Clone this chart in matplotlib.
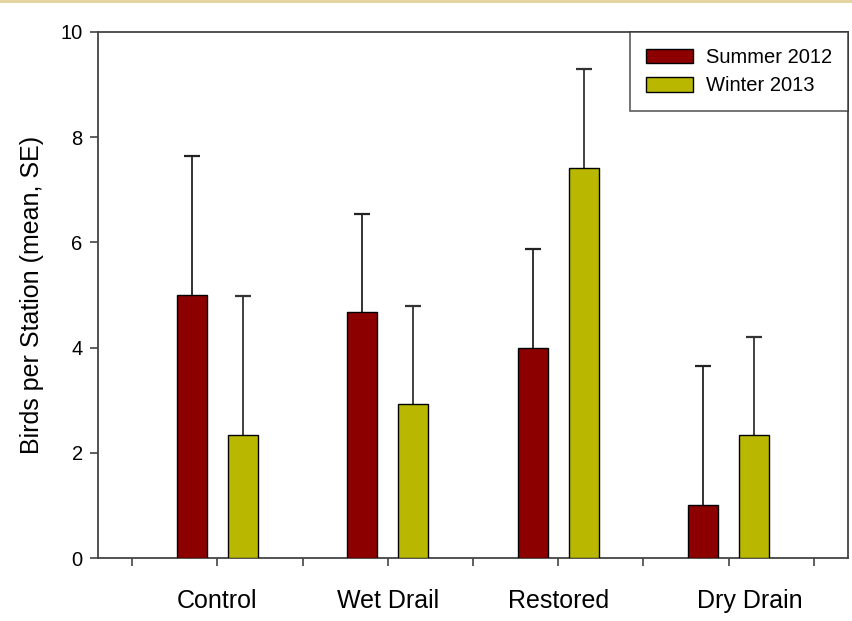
import numpy as np
import matplotlib
matplotlib.use("Agg")
import matplotlib.pyplot as plt
from matplotlib.lines import Line2D

plt.rcParams['font.family'] = ['Liberation Sans', 'DejaVu Sans']

# data
sites = ['Control', 'Wet Drail', 'Restored', 'Dry Drain']
summer_2012 = [5.0, 4.67, 4.0, 1.0]
summer_se = [2.65, 1.87, 1.87, 2.65]
winter_2013 = [2.33, 2.92, 7.42, 2.33]
winter_se = [2.65, 1.87, 1.87, 1.87]

red = '#8c0000'
olive = '#b9b700'

fig = plt.figure(figsize=(8.53, 6.21), dpi=100)
ax = fig.add_axes([0.1149, 0.1014, 0.8792, 0.8471])

centers = np.arange(len(sites)) * 2 + 1
width = 0.35
x_s = centers - 0.3
x_w = centers + 0.3

ax.bar(x_s, summer_2012, width, color=red, edgecolor='black', linewidth=1.0,
       label='Summer 2012', zorder=3)
ax.bar(x_w, winter_2013, width, color=olive, edgecolor='black', linewidth=1.0,
       label='Winter 2013', zorder=3)

# upper error bars only
zeros = np.zeros(len(sites))
for xs, vals, se, col in [(x_s, summer_2012, summer_se, '#222222'),
                          (x_w, winter_2013, winter_se, '#333333')]:
    eb = ax.errorbar(xs, vals, yerr=[zeros, se], fmt='none', ecolor=col,
                     elinewidth=1.3, capsize=6, capthick=1.6, zorder=2)
    eb[1][0].set_visible(False)

ax.set_xlim(-0.4, 8.4)
ax.set_ylim(0, 10)
ax.set_yticks([0, 2, 4, 6, 8, 10])
ax.set_xticks(np.arange(9))
ax.set_xticklabels([])
ax.tick_params(axis='both', direction='out', length=6, width=1.2, color='#444444',
               labelsize=14.5)
ax.tick_params(axis='y', pad=5)

# category labels under each pair of bars (Dry Drain sits a bit right in the original)
label_x = list(centers.astype(float))
label_x[-1] += 0.25
for lx, name in zip(label_x, sites):
    ax.text(lx, -0.58, name, ha='center', va='top', fontsize=18,
            transform=ax.transData)

ax.set_ylabel('Birds per Station (mean, SE)', fontsize=18, labelpad=12)

for side in ['left', 'right', 'top', 'bottom']:
    ax.spines[side].set_linewidth(1.3)
    ax.spines[side].set_color('#444444')

leg = ax.legend(loc='upper right', fontsize=14.5, frameon=True, fancybox=False,
                borderaxespad=0, handlelength=2.3, handleheight=0.75,
                handletextpad=0.65, borderpad=0.8, labelspacing=0.45)
leg.get_frame().set_edgecolor('#333333')
leg.get_frame().set_linewidth(1.2)

fig.add_artist(Line2D([0, 1], [0.998, 0.998], color='#e3d19a', linewidth=2,
                      transform=fig.transFigure))

fig.savefig('out.png', dpi=100)
